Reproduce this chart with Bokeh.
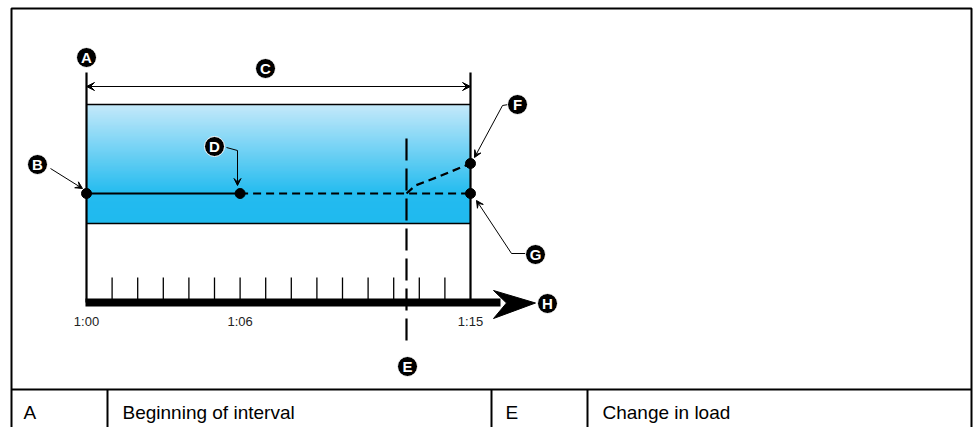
from bokeh.plotting import figure
from bokeh.models import Range1d, Arrow, VeeHead
from bokeh.core.properties import value
from bokeh.embed import file_html
from bokeh.resources import INLINE

# ---------------- data ----------------
minor_ticks = [1, 2, 3, 4, 5, 6, 7, 8, 9, 10, 11, 12, 13, 14]   # minutes
label_minutes = [0, 6, 15]
tick_labels = ["1:00", "1:06", "1:15"]
interval_start = 0
interval_end = 15
subinterval_end = 6          # point D
load_change = 12.5           # line E
avg_demand = 10.9            # B, D, G level
measured_x = [0, 6]
measured_y = [10.9, 10.9]
projected_x = [6, 15]
projected_y = [10.9, 10.9]
predicted_x = [12.5, 12.85, 13.83, 15]
predicted_y = [10.9, 11.7, 12.66, 13.9]
band_low = 7.9
band_high = 19.8
table_keys = ["A", "E"]
table_desc = ["Beginning of interval", "Change in load"]

# ---------------- layout helpers (screen px -> data) ----------------
W, H = 976, 427
OFF = 0
PX_X = 25.6   # px per minute
PX_Y = 10.0   # px per unit
X0 = -(86 - OFF) / PX_X
X1 = X0 + W / PX_X
Y1 = (302 - OFF) / PX_Y
Y0 = Y1 - H / PX_Y

def sx(px):
    return X0 + (px - OFF) / PX_X

def sy(py):
    return (302 - py) / PX_Y

p = figure(width=W, height=H, output_backend="svg", toolbar_location=None,
           x_range=Range1d(X0, X1), y_range=Range1d(Y0, Y1),
           min_border=0, background_fill_color="white", border_fill_color="white")
p.axis.visible = False
p.grid.visible = False
p.outline_line_color = None

FONT = value("Liberation Sans")

# ---------------- outer frame and table ----------------
p.line([sx(11), sx(11), sx(971), sx(971)], [sy(440), sy(8), sy(8), sy(440)],
       line_color="black", line_width=2)
p.segment(x0=[sx(11)], y0=[sy(389)], x1=[sx(971)], y1=[sy(389)], line_color="black", line_width=2)
div_px = [107, 491, 587]
p.segment(x0=[sx(v) for v in div_px], y0=[sy(389)] * 3, x1=[sx(v) for v in div_px], y1=[sy(440)] * 3,
          line_color="black", line_width=2)
p.text(x=[sx(23), sx(505)], y=[sy(412)] * 2, text=table_keys, text_font=FONT,
       text_font_size="19px", text_baseline="middle", text_align="left", text_color="black")
p.text(x=[sx(122), sx(602)], y=[sy(412)] * 2, text=table_desc, text_font=FONT,
       text_font_size="19px", text_baseline="middle", text_align="left", text_color="black")

# ---------------- gradient band ----------------
def lerp(c1, c2, t):
    return "#%02x%02x%02x" % tuple(int(round(a + (b - a) * t)) for a, b in zip(c1, c2))

top_c = (189, 230, 249)
mid_c = (5, 178, 237)
bot_c = (0, 176, 235)
n = int(round((band_high - band_low) * PX_Y))
tops, bots, cols = [], [], []
for i in range(n):
    t_hi = band_high - i / PX_Y
    t_lo = t_hi - 1 / PX_Y
    yc = (t_hi + t_lo) / 2
    if yc >= avg_demand:
        f = (band_high - yc) / (band_high - avg_demand)
        c = lerp(top_c, mid_c, f)
    else:
        c = lerp(mid_c, bot_c, (avg_demand - yc) / (avg_demand - band_low))
    tops.append(t_hi + 0.02)
    bots.append(t_lo)
    cols.append(c)
p.quad(left=[interval_start] * n, right=[interval_end] * n, top=tops, bottom=bots,
       fill_color=cols, line_color=None)
p.segment(x0=[interval_start, interval_start], y0=[band_high, band_low],
          x1=[interval_end, interval_end], y1=[band_high, band_low], line_color="black", line_width=1.5)

# ---------------- interval boundaries ----------------
p.segment(x0=[interval_start, interval_end], y0=[0, 0], x1=[interval_start, interval_end],
          y1=[sy(72), sy(72)], line_color="black", line_width=2.2)

# C dimension arrow
p.add_layout(Arrow(start=VeeHead(size=8, fill_color="black", line_color="black", line_width=1),
                   end=VeeHead(size=8, fill_color="black", line_color="black", line_width=1),
                   x_start=interval_start, y_start=sy(86), x_end=interval_end, y_end=sy(86),
                   line_color="black", line_width=1))

# ---------------- demand lines ----------------
p.line(measured_x, measured_y, line_color="black", line_width=2.2)
p.line(projected_x, projected_y, line_color="black", line_width=2.2, line_dash="8 5")
p.line(predicted_x, predicted_y, line_color="black", line_width=2.2, line_dash="8 5")
p.segment(x0=[load_change], y0=[sy(138)], x1=[load_change], y1=[sy(348)],
          line_color="black", line_width=2.2, line_dash="22 8")
p.scatter([interval_start, subinterval_end, interval_end, interval_end],
          [avg_demand, avg_demand, avg_demand, predicted_y[-1]],
          size=10, fill_color="black", line_color="black")

# ---------------- time axis ----------------
p.segment(x0=minor_ticks, y0=[0] * len(minor_ticks), x1=minor_ticks,
          y1=[sy(277)] * len(minor_ticks), line_color="black", line_width=1.3)
p.segment(x0=[interval_start - 0.04], y0=[0], x1=[sx(500)], y1=[0], line_color="black", line_width=8)
p.patch([sx(535), sx(493), sx(506), sx(493)], [sy(302.5), sy(290), sy(302.5), sy(318)],
        fill_color="black", line_color="black")
p.text(x=label_minutes, y=[sy(321)] * 3, text=tick_labels, text_font=FONT,
       text_font_size="13px", text_align="center", text_baseline="middle", text_color="#222222")

# ---------------- leader arrows ----------------
def leader(pts):
    xs = [sx(a) for a, b in pts]
    ys = [sy(b) for a, b in pts]
    if len(pts) > 2:
        p.line(xs[:-1], ys[:-1], line_color="black", line_width=1)
    p.add_layout(Arrow(end=VeeHead(size=7, fill_color="black", line_color="black", line_width=1),
                       x_start=xs[-2], y_start=ys[-2], x_end=xs[-1], y_end=ys[-1],
                       line_color="black", line_width=1))

leader([(50, 168), (82, 188)])
leader([(226, 147), (237, 150), (237, 185)])
leader([(508, 104), (502, 105), (474, 157)])
leader([(526, 253), (511, 253), (476, 200)])

# ---------------- circled letters ----------------
letters = ["A", "B", "C", "D", "E", "F", "G", "H"]
lx_px = [86, 37, 265, 214, 407, 517, 535, 547]
ly_px = [57, 164, 68, 146, 366, 104, 254, 303]
lx = [sx(v) for v in lx_px]
ly = [sy(v) for v in ly_px]
p.scatter(lx, ly, size=20, fill_color="black", line_color="white", line_width=1)
p.text(x=lx, y=ly, text=letters, text_font=FONT, text_font_size="15px",
       text_font_style="bold", text_color="white", text_align="center", text_baseline="middle")

open("out.html", "w").write(file_html(p, INLINE))
